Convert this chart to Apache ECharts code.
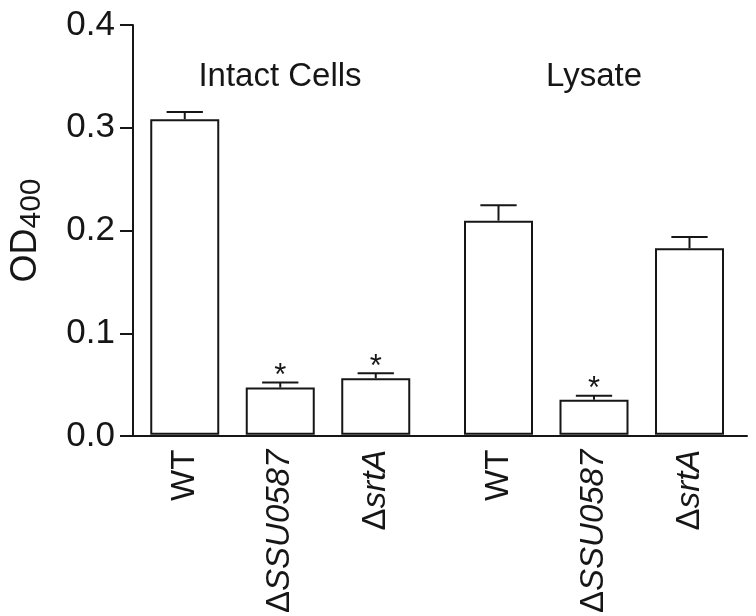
<!DOCTYPE html>
<html>
<head>
<meta charset="utf-8">
<script src="https://cdn.jsdelivr.net/npm/echarts@6/dist/echarts.min.js"></script>
<style>
  html, body { margin: 0; padding: 0; background: #fff; }
  #chart { width: 756px; height: 616px; }
</style>
</head>
<body>
<div id="chart"></div>
<script>
// values
const groups = ['Intact Cells', 'Lysate']
const strains = ['WT', 'ΔSSU0587', 'ΔsrtA']
const intactMean = [0.308, 0.046, 0.055]
const intactErr = [0.007, 0.005, 0.005]
const intactSig = ['', '*', '*']
const lysateMean = [0.209, 0.034, 0.182]
const lysateErr = [0.015, 0.004, 0.011]
const lysateSig = ['', '*', '']

const ink = '#161616'
const font = 'Liberation Sans, Arial, sans-serif'

const chart = echarts.init(document.getElementById('chart'))

// strain names: delta upright, gene name italic
const strainLabel = (v) => v.charAt(0) === 'Δ' ? '{u|Δ}{i|' + v.slice(1) + '}' : v

const errorBars = (gridIdx, means, errs, sigs) => ({
  type: 'custom',
  xAxisIndex: gridIdx,
  yAxisIndex: gridIdx,
  z: 5,
  data: strains.map((s, i) => [s, means[i], errs[i], sigs[i]]),
  renderItem: (params, api) => {
    const x = api.value(0)
    const base = api.coord([x, api.value(1)])
    const top = api.coord([x, api.value(1) + api.value(2)])
    const half = api.size([1, 0])[0] * 0.19
    const style = { stroke: ink, lineWidth: 2 }
    return {
      type: 'group',
      children: [
        { type: 'line', shape: { x1: base[0], y1: base[1], x2: top[0], y2: top[1] }, style },
        { type: 'line', shape: { x1: top[0] - half, y1: top[1], x2: top[0] + half, y2: top[1] }, style },
        {
          type: 'text',
          style: {
            text: params.dataIndex >= 0 ? sigs[params.dataIndex] : '',
            x: top[0], y: top[1] - 6,
            align: 'center', verticalAlign: 'middle',
            font: '31px ' + font, fill: ink
          }
        }
      ]
    }
  }
})

const bars = (gridIdx, means) => ({
  type: 'bar',
  xAxisIndex: gridIdx,
  yAxisIndex: gridIdx,
  barWidth: 69,
  data: means,
  itemStyle: { color: '#fff', borderColor: ink, borderWidth: 2 }
})

const strainAxis = (gridIdx) => ({
  type: 'category',
  gridIndex: gridIdx,
  data: strains,
  axisLine: { show: false },
  axisTick: { show: false },
  axisLabel: {
    rotate: 90,
    margin: 15,
    fontSize: 33,
    fontFamily: font,
    color: ink,
    formatter: strainLabel,
    rich: {
      u: { fontSize: 33, fontFamily: font, color: ink },
      i: { fontSize: 33, fontFamily: font, color: ink, fontStyle: 'italic' }
    }
  }
})

const hiddenY = (gridIdx) => ({
  type: 'value', gridIndex: gridIdx, min: 0, max: 0.4, show: false
})

const titleStyle = { fontSize: 33, fontWeight: 'normal', fontFamily: font, color: ink }

const option = {
  animation: false,
  title: [
    { text: groups[0], left: 280, top: 60, padding: 0, textAlign: 'center', textStyle: titleStyle },
    { text: groups[1], left: 594, top: 60, padding: 0, textAlign: 'center', textStyle: titleStyle }
  ],
  grid: [
    { left: 130, right: 9, top: 25, bottom: 180 },
    { left: 137, width: 286.5, top: 25, bottom: 180 },
    { left: 450.75, width: 286.5, top: 25, bottom: 180 }
  ],
  xAxis: [
    {
      type: 'value', gridIndex: 0, min: 0, max: 1,
      axisLine: { lineStyle: { color: ink, width: 2 } },
      axisTick: { show: false }, axisLabel: { show: false }, splitLine: { show: false }
    },
    strainAxis(1),
    strainAxis(2)
  ],
  yAxis: [
    {
      type: 'value', gridIndex: 0, min: 0, max: 0.4, interval: 0.1,
      name: '{a|OD}{b|400}',
      nameLocation: 'middle',
      nameRotate: 90,
      nameGap: 86,
      nameTextStyle: {
        rich: {
          a: { fontSize: 36, fontFamily: font, color: ink },
          b: { fontSize: 30, fontFamily: font, color: ink, padding: [12, 0, 0, 0] }
        }
      },
      axisLine: { show: true, lineStyle: { color: ink, width: 2 } },
      axisTick: { show: true, length: 13, lineStyle: { color: ink, width: 2 } },
      splitLine: { show: false },
      axisLabel: {
        margin: 18, fontSize: 35, fontFamily: font, color: ink,
        formatter: (v) => v.toFixed(1)
      }
    },
    hiddenY(1),
    hiddenY(2)
  ],
  series: [
    bars(1, intactMean),
    errorBars(1, intactMean, intactErr, intactSig),
    bars(2, lysateMean),
    errorBars(2, lysateMean, lysateErr, lysateSig)
  ]
}

chart.setOption(option)
</script>
</body>
</html>
